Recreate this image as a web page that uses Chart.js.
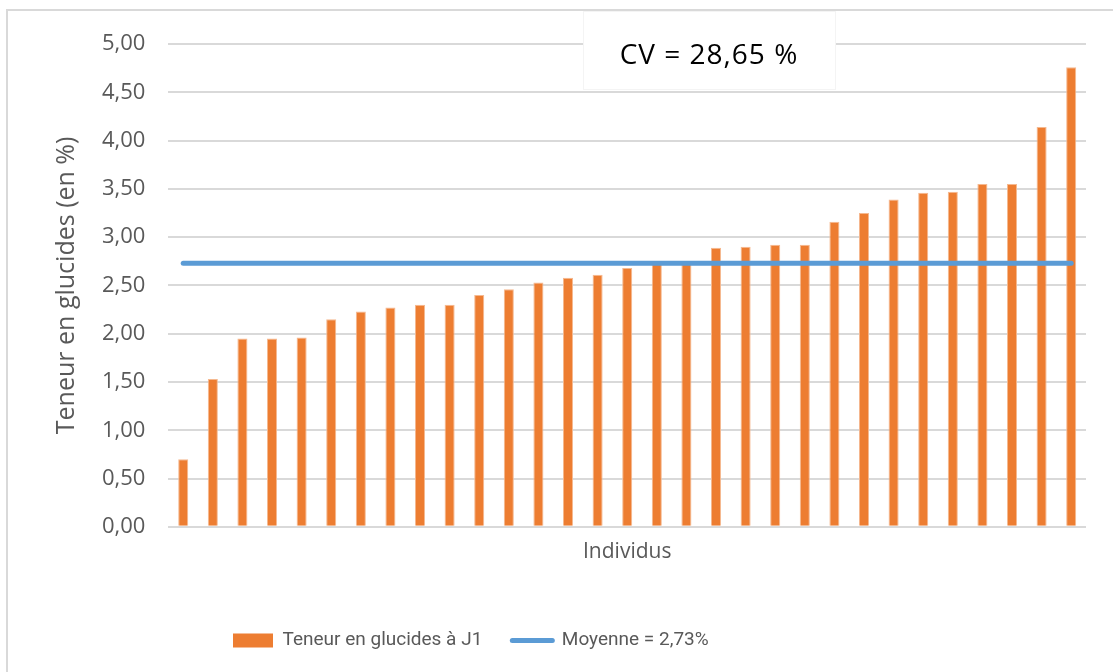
<!DOCTYPE html>
<html>
<head>
<meta charset="utf-8">
<script src="https://cdn.jsdelivr.net/npm/chart.js@4/dist/chart.umd.min.js"></script>
<style>
  html, body { margin: 0; padding: 0; background: #fff; }
  #frame { position: absolute; left: 6px; top: 9px; width: 1120px; height: 680px;
           border-left: 2px solid #d9d9d9; border-top: 2px solid #d9d9d9; }
  #chart { position: absolute; left: 0; top: 0; }
</style>
</head>
<body>
<div id="frame"></div>
<canvas id="chart" width="1113" height="672"></canvas>
<script>
// individuals, sorted by sugar content
var individus = ['1','2','3','4','5','6','7','8','9','10','11','12','13','14','15','16',
                 '17','18','19','20','21','22','23','24','25','26','27','28','29','30','31'];

// Teneur en glucides à J1 (en %)
var teneur = [0.70, 1.53, 1.95, 1.95, 1.96, 2.15, 2.23, 2.27, 2.30, 2.30, 2.40, 2.46, 2.53, 2.58, 2.61, 2.68,
              2.73, 2.75, 2.89, 2.90, 2.92, 2.92, 3.16, 3.25, 3.39, 3.46, 3.47, 3.55, 3.55, 4.14, 4.76];

// Moyenne = 2,73 %
var moyenne = [2.73, 2.73, 2.73, 2.73, 2.73, 2.73, 2.73, 2.73, 2.73, 2.73, 2.73, 2.73, 2.73, 2.73, 2.73, 2.73,
               2.73, 2.73, 2.73, 2.73, 2.73, 2.73, 2.73, 2.73, 2.73, 2.73, 2.73, 2.73, 2.73, 2.73, 2.73];

var cvText = 'CV = 28,65 %';

var grey = '#595959';
var uiFont = '"Open Sans", "Noto Sans", sans-serif';

// white box with the CV value, on top of the grid
var cvBox = {
  id: 'cvBox',
  afterDatasetsDraw: function(chart) {
    var ctx = chart.ctx;
    ctx.save();
    ctx.fillStyle = '#ffffff';
    ctx.fillRect(583, 11, 253, 79);
    ctx.strokeStyle = '#f4f4f4';
    ctx.lineWidth = 1;
    ctx.strokeRect(583.5, 11.5, 252, 78);
    ctx.fillStyle = '#000000';
    ctx.font = '28px ' + uiFont;
    ctx.letterSpacing = '1px';
    ctx.textAlign = 'center';
    ctx.textBaseline = 'middle';
    ctx.fillText(cvText, 709, 56);
    ctx.restore();
  }
};

// move the legend a bit to the left, like the original
var legendShift = {
  id: 'legendShift',
  afterLayout: function(chart) {
    chart.legend.left = 203;
  }
};

var chart = new Chart(document.getElementById('chart'), {
  type: 'bar',
  data: {
    labels: individus,
    datasets: [{
      type: 'bar',
      label: 'Teneur en glucides à J1',
      data: teneur,
      backgroundColor: '#ED7D31',
      borderColor: '#F5B990',
      borderWidth: 1,
      barPercentage: 0.34,
      categoryPercentage: 1,
      order: 1
    }, {
      type: 'line',
      label: 'Moyenne = 2,73%',
      data: moyenne,
      borderColor: '#5B9BD5',
      backgroundColor: '#5B9BD5',
      borderWidth: 5,
      borderCapStyle: 'round',
      pointRadius: 0,
      pointHoverRadius: 0,
      order: 0
    }]
  },
  options: {
    responsive: false,
    animation: false,
    layout: { padding: { left: 52, right: 27, top: 44, bottom: 12 } },
    plugins: {
      tooltip: { enabled: false },
      legend: {
        position: 'bottom',
        align: 'start',
        labels: {
          usePointStyle: true,
          pointStyleWidth: 40,
          boxHeight: 14,
          padding: 30,
          color: grey,
          font: { family: 'Roboto, ' + uiFont, size: 19 },
          sort: function(a, b) { return a.datasetIndex - b.datasetIndex; },
          generateLabels: function(chart) {
            var items = Chart.defaults.plugins.legend.labels.generateLabels(chart);
            items.forEach(function(it) {
              if (it.datasetIndex === 0) {
                it.pointStyle = 'rect';
                it.fillStyle = '#ED7D31';
                it.lineWidth = 0;
              } else {
                it.pointStyle = 'line';
                it.strokeStyle = '#5B9BD5';
                it.lineWidth = 5;
                it.lineCap = 'round';
              }
            });
            return items;
          }
        }
      }
    },
    scales: {
      x: {
        grid: { display: false },
        border: { display: false },
        ticks: { display: false },
        title: {
          display: true,
          text: 'Individus',
          color: grey,
          font: { family: uiFont, size: 21 },
          padding: { top: 5, bottom: 36 }
        }
      },
      y: {
        min: 0,
        max: 5,
        grid: { color: '#d9d9d9', lineWidth: 2, drawTicks: false },
        border: { display: false },
        ticks: {
          stepSize: 0.5,
          padding: 23,
          color: grey,
          font: { family: uiFont, size: 22 },
          callback: function(v) { return v.toFixed(2).replace('.', ','); }
        },
        title: {
          display: true,
          text: 'Teneur en glucides (en %)',
          color: grey,
          font: { family: uiFont, size: 25, lineHeight: 1 },
          padding: { top: 2, bottom: 0 }
        }
      }
    }
  },
  plugins: [cvBox, legendShift]
});
</script>
</body>
</html>
